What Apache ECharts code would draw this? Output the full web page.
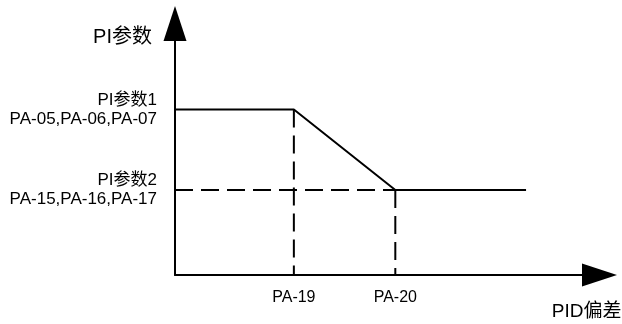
<!DOCTYPE html>
<html>
<head>
<meta charset="utf-8">
<script src="https://cdn.jsdelivr.net/npm/echarts@6/dist/echarts.min.js"></script>
<style>
  html, body { margin: 0; padding: 0; background: #fff; }
  #chart { width: 622px; height: 324px; }
</style>
</head>
<body>
<div id="chart"></div>
<script>
// 坐标轴刻度（PID偏差 / PI参数）
const xTicks = [28, 51.9]
const xTickLabels = ['PA-19', 'PA-20']
const yTicks = [65.8, 33.8]
const yTickLabels = ['PI参数1\nPA-05,PA-06,PA-07', 'PI参数2\nPA-15,PA-16,PA-17']

// 折线：PI参数随PID偏差变化
const curveX = [0, 28, 51.9, 82.7]
const curveY = [65.8, 65.8, 33.8, 33.8]

// 虚线辅助线
const guideH = [[0, 33.8], [51.9, 33.8]]
const guideV1 = [[28, 65.8], [28, 0]]
const guideV2 = [[51.9, 33.8], [51.9, 0]]

const font = '"Liberation Sans", Arial, "Noto Sans CJK SC", sans-serif'

const labelOf = (ticks, labels) => v => {
  const i = ticks.findIndex(t => Math.abs(t - v) < 1e-6)
  return i >= 0 ? labels[i] : ''
}

const dashed = data => ({
  type: 'line',
  data: data,
  symbol: 'none',
  silent: true,
  lineStyle: { color: '#000', width: 2, type: [18, 8] }
})

const chart = echarts.init(document.getElementById('chart'))
chart.setOption({
  animation: false,
  grid: {
    left: 175,
    right: 22.5,
    top: 23.5,
    bottom: 49,
    containLabel: false,
    outerBoundsMode: 'none'
  },
  xAxis: {
    type: 'value',
    min: 0,
    max: 100,
    name: 'PID偏差',
    nameLocation: 'end',
    nameGap: 22,
    nameTextStyle: {
      fontFamily: font,
      fontSize: 19,
      color: '#000',
      align: 'right',
      verticalAlign: 'top',
      padding: [27, 0, 0, 0]
    },
    splitLine: { show: false },
    axisTick: { show: false },
    axisLine: {
      show: true,
      symbol: ['none', 'triangle'],
      symbolSize: [23, 35],
      lineStyle: { color: '#000', width: 2 }
    },
    axisLabel: {
      customValues: xTicks,
      formatter: labelOf(xTicks, xTickLabels),
      fontFamily: font,
      fontSize: 16,
      color: '#000',
      margin: 15
    }
  },
  yAxis: {
    type: 'value',
    min: 0,
    max: 100,
    name: 'PI参数',
    nameLocation: 'end',
    nameGap: -14,
    nameTextStyle: {
      fontFamily: font,
      fontSize: 20,
      color: '#000',
      align: 'right',
      verticalAlign: 'middle',
      padding: [0, 23, 0, 0]
    },
    splitLine: { show: false },
    axisTick: { show: false },
    axisLine: {
      show: true,
      symbol: ['none', 'triangle'],
      symbolSize: [23, 35],
      lineStyle: { color: '#000', width: 2 }
    },
    axisLabel: {
      customValues: yTicks,
      formatter: labelOf(yTicks, yTickLabels),
      fontFamily: font,
      fontSize: 17,
      lineHeight: 19,
      color: '#000',
      margin: 18,
      padding: [5, 0, 0, 0]
    }
  },
  series: [
    {
      type: 'line',
      data: curveX.map((x, i) => [x, curveY[i]]),
      symbol: 'none',
      silent: true,
      lineStyle: { color: '#000', width: 2 }
    },
    dashed(guideH),
    dashed(guideV1),
    dashed(guideV2)
  ]
})
</script>
</body>
</html>
